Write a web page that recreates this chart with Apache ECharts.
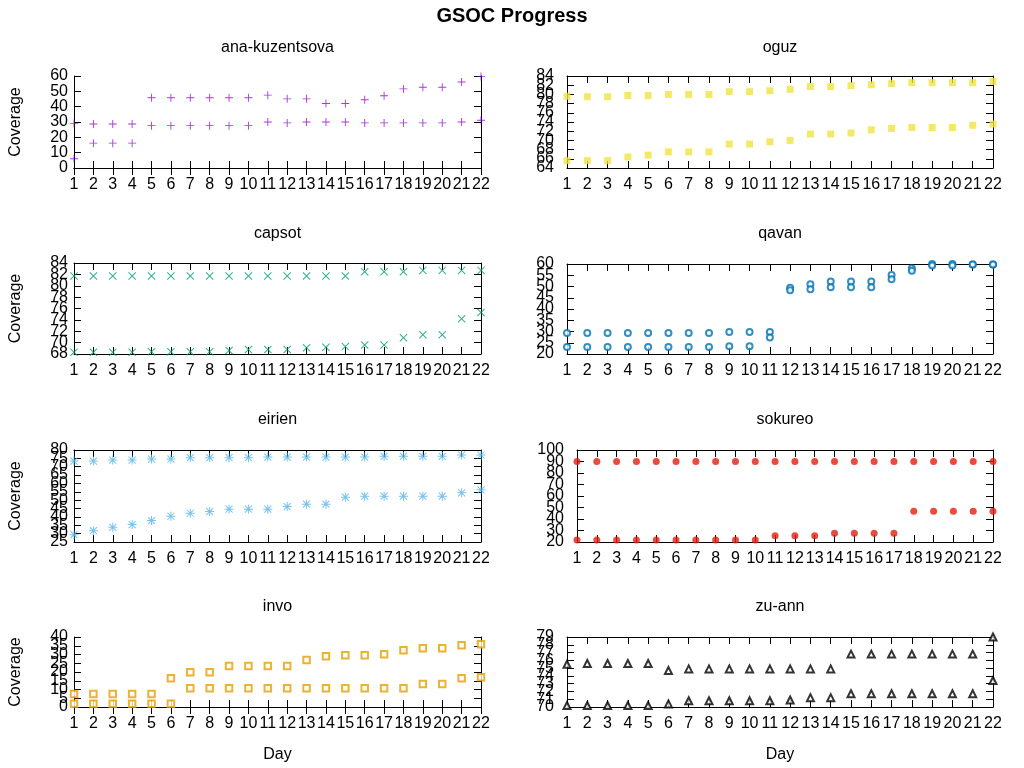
<!DOCTYPE html>
<html><head><meta charset="utf-8">
<script src="https://cdn.jsdelivr.net/npm/echarts@6/dist/echarts.min.js"></script>
<style>html,body{margin:0;padding:0;background:#fff}#c{width:1024px;height:768px}</style>
</head><body><div id="c"></div>
<script>
// ---- data ----
const days = [1,2,3,4,5,6,7,8,9,10,11,12,13,14,15,16,17,18,19,20,21,22];

const anaA = [6,16.2,16.2,16.2,45.8,45.8,45.8,45.8,45.8,45.8,47.5,45.1,45.1,42.1,42.1,44.5,47.1,51.6,52.7,52.7,56.1,59.6];
const anaB = [29.1,28.7,28.7,28.7,27.6,27.6,27.6,27.6,27.6,27.6,30,29.4,30,30,30,29.4,29.4,29.4,29.4,29.4,30,31.1];

const oguzA = [79.6,79.5,79.5,79.75,79.75,80,80,80,80.6,80.6,80.8,81.1,81.7,81.7,81.9,82.1,82.35,82.55,82.55,82.55,82.55,82.8];
const oguzB = [65.6,65.6,65.6,66.4,66.8,67.5,67.5,67.5,69.2,69.2,69.7,70.0,71.4,71.4,71.6,72.3,72.6,72.8,72.8,72.8,73.3,73.55];

const capsotA = [81.7,81.7,81.7,81.7,81.7,81.7,81.7,81.7,81.7,81.7,81.7,81.7,81.7,81.7,81.7,82.45,82.45,82.45,82.7,82.7,82.7,82.7];
const capsotB = [68.3,68.3,68.3,68.3,68.4,68.4,68.4,68.4,68.6,68.8,68.8,68.8,69.1,69.2,69.3,69.6,69.6,70.85,71.4,71.4,74.2,75.3];

const qavanA = [29.3,29.3,29.3,29.3,29.3,29.3,29.3,29.3,29.8,29.8,29.8,49.5,51.0,52.2,52.2,52.2,55.1,58.1,60,60,59.8,59.8];
const qavanB = [23.1,23.1,23.1,23.1,23.1,23.1,23.1,23.1,23.5,23.5,27.3,48.3,48.8,49.7,49.7,49.7,53.2,57.0,59.3,59.3,59.8,59.8];

const eirienA = [73.4,73.4,74.0,74.0,74.6,74.6,75.4,75.4,75.4,75.4,75.8,75.8,75.8,75.8,75.8,75.8,76.2,76.2,76.2,76.2,77,77];
const eirienB = [29.4,31.8,33.8,35.4,37.8,40.4,42.2,43.2,44.6,44.6,44.6,46.2,47.6,47.6,51.8,52.4,52.4,52.4,52.4,52.4,54.4,56.2];

const sokureoA = [90,90,90,90,90,90,90,90,90,90,90,90,90,90,90,90,90,90,90,90,90,90];
const sokureoB = [21.7,21.7,21.7,21.7,21.7,21.7,21.7,21.7,21.7,21.7,25.4,25.4,25.4,27.7,27.7,27.7,27.7,46.7,46.7,46.7,46.7,46.7];

const invoA = [7.5,7.5,7.5,7.5,7.5,16.4,19.8,19.8,23.4,23.4,23.4,23.4,26.8,29.0,29.6,29.6,30.2,32.4,33.6,33.6,35.3,35.8];
const invoB = [1.9,1.9,1.9,1.9,1.9,1.9,10.7,10.7,10.7,10.7,10.7,10.7,10.7,10.7,10.7,10.7,10.7,10.7,13.2,13.2,16.4,17.0];

const zuA = [75.5,75.6,75.6,75.6,75.6,74.7,74.9,74.9,74.9,74.9,74.9,74.9,74.9,74.9,76.8,76.8,76.8,76.8,76.8,76.8,76.8,79];
const zuB = [70.2,70.2,70.2,70.2,70.2,70.4,70.8,70.8,70.8,70.8,70.8,70.9,71.2,71.2,71.7,71.7,71.7,71.7,71.7,71.7,71.7,73.4];

// ---- styling / layout ----
const FONT = 'Liberation Sans, Arial, sans-serif';
const PLUS = 'path://M8,0h2v8h8v2h-8v8h-2v-8h-8v-2h8z';
const CROSS = 'path://M2.7,1.3L16.7,15.3L15.3,16.7L1.3,2.7Z M15.3,1.3L16.7,2.7L2.7,16.7L1.3,15.3Z';
const STAR = 'path://M8,0h2v8h8v2h-8v8h-2v-8h-8v-2h8z M2.7,1.3L16.7,15.3L15.3,16.7L1.3,2.7Z M15.3,1.3L16.7,2.7L2.7,16.7L1.3,15.3Z';

const panels = [
  {title:'ana-kuzentsova', a:anaA, b:anaB, min:0, max:60, step:10, color:'#9400d3', symbol:PLUS, size:8, empty:false, box:[74,76,407,92], col:0, row:0},
  {title:'oguz', a:oguzA, b:oguzB, min:64, max:84, step:2, color:'#f0e442', symbol:'rect', size:7, empty:false, box:[567,76,426,92], col:1, row:0},
  {title:'capsot', a:capsotA, b:capsotB, min:68, max:84, step:2, color:'#009e73', symbol:CROSS, size:8, empty:false, box:[74,263,407,91], col:0, row:1},
  {title:'qavan', a:qavanA, b:qavanB, min:20, max:60, step:5, color:'#0072b2', symbol:'emptyCircle', size:6, empty:true, box:[567,264,426,90], col:1, row:1},
  {title:'eirien', a:eirienA, b:eirienB, min:25, max:80, step:5, color:'#56b4e9', symbol:STAR, size:9, empty:false, box:[74,450,407,92], col:0, row:2},
  {title:'sokureo', a:sokureoA, b:sokureoB, min:20, max:100, step:10, color:'#e51e10', symbol:'circle', size:7, empty:false, box:[577,450,416,92], col:1, row:2},
  {title:'invo', a:invoA, b:invoB, min:0, max:40, step:5, color:'#e69f00', symbol:'emptyRect', size:6.5, empty:true, box:[74,637,407,70], col:0, row:3},
  {title:'zu-ann', a:zuA, b:zuB, min:70, max:79, step:1, color:'#000000', symbol:'emptyTriangle', size:7, empty:true, box:[567,637,426,70], col:1, row:3}
];
const titleY = [47, 233, 419, 606];

const titles = [{text:'GSOC Progress', left:'center', top:6, padding:0,
  textStyle:{fontSize:20, fontWeight:'bold', color:'#000', fontFamily:FONT}}];
const grids = [], xAxes = [], yAxes = [], series = [];
const line = {show:true, lineStyle:{color:'#000', width:1}};
const tick = {show:true, inside:true, length:7, lineStyle:{color:'#000', width:1}};
const lbl = {fontSize:16, color:'#000', fontFamily:FONT};

panels.forEach((p, i) => {
  const [l, t, w, h] = p.box;
  grids.push({left:l, top:t, width:w, height:h});
  titles.push({text:p.title, left:l + w/2, top:titleY[p.row] - 7, textAlign:'center', padding:0,
    textStyle:{fontSize:16, fontWeight:'normal', color:'#000', fontFamily:FONT}});
  const xi = xAxes.length;
  xAxes.push({gridIndex:i, type:'value', position:'bottom', min:1, max:22, interval:1,
    axisLine:line, axisTick:tick, splitLine:{show:false},
    axisLabel:Object.assign({margin:9, hideOverlap:false, showMinLabel:true, showMaxLabel:true}, lbl),
    name: p.row === 3 ? 'Day' : '', nameLocation:'middle', nameGap:40, nameTextStyle:lbl});
  xAxes.push({gridIndex:i, type:'value', position:'top', min:1, max:22, interval:1,
    axisLine:line, axisTick:tick, splitLine:{show:false}, axisLabel:{show:false}});
  const yi = yAxes.length;
  // right mirror axis
  yAxes.push({gridIndex:i, type:'value', position:'right', min:p.min, max:p.max, interval:p.step,
    axisLine:line, axisTick:tick, splitLine:{show:false}, axisLabel:{show:false}});
  // left axes: labels split over k axes so that every tick label is drawn (gnuplot draws all, even overlapping)
  const pxPerStep = h / ((p.max - p.min) / p.step);
  const k = Math.max(1, Math.ceil(21 / pxPerStep));
  for (let r = 0; r < k; r++) {
    yAxes.push({gridIndex:i, type:'value', position:'left', offset:0, min:p.min, max:p.max, interval:p.step,
      axisLine: r === 0 ? line : {show:false}, axisTick: r === 0 ? tick : {show:false}, splitLine:{show:false},
      axisLabel:Object.assign({margin: p.col === 0 ? 6 : 13, hideOverlap:false, showMinLabel:true, showMaxLabel:true,
        formatter: v => (Math.round((v - p.min) / p.step) % k === r) ? String(v) : ''}, lbl),
      name: (p.col === 0 && r === 0) ? 'Coverage' : '', nameLocation:'middle', nameGap:50, nameRotate:90, nameTextStyle:lbl});
  }
  [p.a, p.b].forEach(vals => {
    series.push({type:'scatter', xAxisIndex:xi, yAxisIndex:yi + 1, clip:false,
      symbol:p.symbol, symbolSize:p.size, silent:true,
      itemStyle: p.empty ? {color:p.color, borderColor:p.color, borderWidth:1}
                         : {color:p.color, borderWidth:0},
      data: days.map((d, k2) => [d, vals[k2]])});
  });
});

const chart = echarts.init(document.getElementById('c'), null, {renderer:'canvas'});
chart.setOption({animation:false, backgroundColor:'#fff', title:titles, grid:grids,
  xAxis:xAxes, yAxis:yAxes, series:series});
</script></body></html>
